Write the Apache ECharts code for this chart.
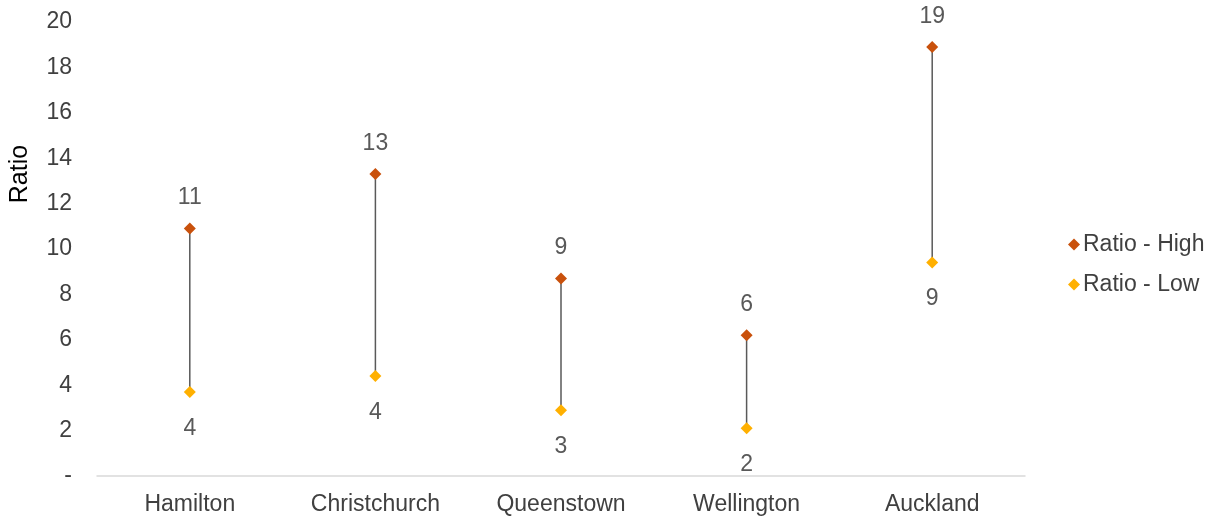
<!DOCTYPE html>
<html>
<head>
    <meta charset="utf-8">
    <title>Ratio High / Low</title>
    <script src="https://cdn.jsdelivr.net/npm/echarts@6/dist/echarts.min.js"></script>
    <style>
        html, body { margin: 0; padding: 0; background: #fff; }
        #main { width: 1217px; height: 518px; }
    </style>
</head>
<body>
    <div id="main"></div>
    <script type="text/javascript">
        // data
        var cities = ['Hamilton', 'Christchurch', 'Queenstown', 'Wellington', 'Auckland'];
        var ratioHigh = [10.9, 13.3, 8.7, 6.2, 18.9];
        var ratioLow = [3.7, 4.4, 2.9, 2.1, 9.4];

        var font = 'Liberation Sans, Arial, sans-serif';
        var myChart = echarts.init(document.getElementById('main'));

        // pairs for the high-low connector lines
        var ranges = [];
        for (var i = 0; i < cities.length; i++) {
            ranges.push([i, ratioLow[i], ratioHigh[i]]);
        }

        var option = {
            animation: false,
            textStyle: { fontFamily: font },
            grid: { left: 97, right: 192, top: 22, bottom: 42, outerBoundsMode: 'none' },
            legend: {
                orient: 'vertical',
                left: 1063,
                top: 228,
                itemWidth: 12,
                itemHeight: 12,
                itemGap: 17,
                icon: 'diamond',
                textStyle: { fontSize: 23, color: '#404040', fontFamily: font, padding: [0, 0, 0, -2] },
                data: ['Ratio - High', 'Ratio - Low']
            },
            xAxis: {
                type: 'category',
                data: cities,
                axisLine: { lineStyle: { color: '#D9D9D9', width: 1.5 } },
                axisTick: { show: false },
                axisLabel: { fontSize: 23, color: '#404040', margin: 17 }
            },
            yAxis: {
                type: 'value',
                min: 0,
                max: 20,
                interval: 2,
                name: 'Ratio',
                nameLocation: 'middle',
                nameGap: 64,
                nameTextStyle: { fontSize: 25, color: '#000', padding: [0, 0, 0, 150] },
                splitLine: { show: false },
                axisLine: { show: false },
                axisTick: { show: false },
                axisLabel: {
                    fontSize: 23,
                    color: '#404040',
                    margin: 25,
                    formatter: function (v) { return v === 0 ? '-' : v; }
                }
            },
            series: [
                {
                    type: 'custom',
                    silent: true,
                    z: 1,
                    data: ranges,
                    renderItem: function (params, api) {
                        var p1 = api.coord([api.value(0), api.value(1)]);
                        var p2 = api.coord([api.value(0), api.value(2)]);
                        return {
                            type: 'line',
                            shape: { x1: p1[0], y1: p1[1], x2: p2[0], y2: p2[1] },
                            style: { stroke: '#595959', lineWidth: 1.5 }
                        };
                    }
                },
                {
                    name: 'Ratio - High',
                    type: 'scatter',
                    z: 3,
                    symbol: 'diamond',
                    symbolSize: 12,
                    itemStyle: { color: '#C9510C', opacity: 1 },
                    label: {
                        show: true,
                        position: 'top',
                        distance: 13,
                        fontSize: 23,
                        color: '#595959',
                        formatter: function (p) { return Math.round(p.value); }
                    },
                    data: ratioHigh
                },
                {
                    name: 'Ratio - Low',
                    type: 'scatter',
                    z: 3,
                    symbol: 'diamond',
                    symbolSize: 12,
                    itemStyle: { color: '#FFB000', opacity: 1 },
                    label: {
                        show: true,
                        position: 'bottom',
                        distance: 19,
                        fontSize: 23,
                        color: '#595959',
                        formatter: function (p) { return Math.round(p.value); }
                    },
                    data: ratioLow
                }
            ]
        };

        myChart.setOption(option);
    </script>
</body>
</html>
